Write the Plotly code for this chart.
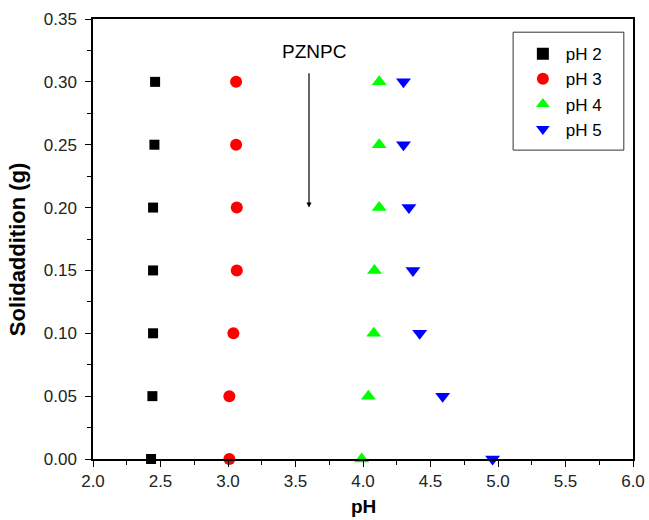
import plotly.graph_objects as go

solid = [0.30, 0.25, 0.20, 0.15, 0.10, 0.05, 0.00]
ph2 = [2.46, 2.455, 2.445, 2.445, 2.445, 2.44, 2.43]
ph3 = [3.06, 3.06, 3.065, 3.065, 3.04, 3.01, 3.01]
ph4 = [4.12, 4.12, 4.12, 4.085, 4.08, 4.04, 3.99]
ph5 = [4.30, 4.30, 4.34, 4.37, 4.42, 4.59, 4.96]

series = [
    ("pH 2", ph2, "square", "black", 10),
    ("pH 3", ph3, "circle", "red", 12),
    ("pH 4", ph4, "triangle-up", "#00ff00", 13),
    ("pH 5", ph5, "triangle-down", "blue", 13),
]

font = "Liberation Sans, Arial, sans-serif"
fig = go.Figure()
for name, xs, sym, col, sz in series:
    fig.add_trace(go.Scatter(x=xs, y=solid, mode="markers", name=name,
                             marker=dict(symbol=sym, color=col, size=sz, line=dict(width=0)),
                             cliponaxis=False))

fig.add_annotation(x=3.6, y=0.200, ax=3.6, ay=0.308, xref="x", yref="y", axref="x", ayref="y",
                   showarrow=True, arrowhead=2, arrowsize=0.85, arrowwidth=1.2, arrowcolor="black", text="")
fig.add_annotation(x=3.635, y=0.324, text="PZNPC", showarrow=False, font=dict(size=19, color="black", family=font))

# axis titles
fig.add_annotation(x=-0.1407, y=0.477, xref="paper", yref="paper", text="<b>Solidaddition (g)</b>",
                   xanchor="center", yanchor="middle",
                   textangle=-90, showarrow=False, font=dict(size=22, family=font, color="black"))
fig.add_annotation(x=0.5, y=-0.108, xref="paper", yref="paper", text="<b>pH</b>",
                   xanchor="center", yanchor="middle", borderpad=0,
                   showarrow=False, font=dict(size=19, family=font, color="black"))

# legend frame
fig.add_shape(type="rect", xref="paper", yref="paper", x0=0.778, x1=0.983, y0=0.702, y1=0.970,
              line=dict(color="#333", width=1), fillcolor="white", layer="below")

axis_common = dict(showgrid=False, zeroline=False, showline=True, linecolor="black", linewidth=1.5,
                   mirror=True, ticks="outside", ticklen=6, tickwidth=1.2, tickcolor="black",
                   automargin=False, tickfont=dict(size=17, color="#222", family=font))
fig.update_xaxes(range=[2.0, 6.0], dtick=0.5, tick0=2.0, tickformat=".1f", ticklabelstandoff=0,
                 ticklabeloverflow="allow",
                 minor=dict(ticks="outside", ticklen=4, dtick=0.25, tickcolor="black", tickwidth=1),
                 **axis_common)
fig.update_yaxes(range=[0.0, 0.35], dtick=0.05, tick0=0, tickformat=".2f", ticklabelstandoff=5,
                 minor=dict(ticks="outside", ticklen=4, dtick=0.025, tickcolor="black", tickwidth=1),
                 **axis_common)

fig.update_layout(width=649, height=520, margin=dict(l=93, r=16, t=19, b=61, autoexpand=False),
                  plot_bgcolor="white", paper_bgcolor="white", font=dict(family=font),
                  legend=dict(x=0.7905, y=0.961, xanchor="left", yanchor="top",
                              borderwidth=0, bgcolor="rgba(0,0,0,0)",
                              font=dict(size=17, family=font, color="black"),
                              itemwidth=36, tracegroupgap=0, itemsizing="constant"))
fig.write_html("out.html", config={"displayModeBar": False},
               post_script="document.body.style.margin='0';")
